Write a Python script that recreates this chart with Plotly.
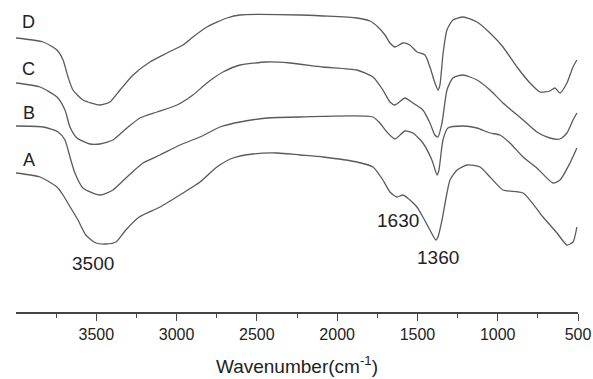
import plotly.graph_objects as go

# Wavenumber (cm^-1) and relative transmittance (arbitrary units, offset spectra)
wn_D = [4000, 3830, 3745, 3707, 3676, 3645, 3583, 3477, 3415, 3352, 3271, 3166, 3060, 2960, 2898, 2811, 2686, 2605, 2231,
        2088, 1877, 1796, 1746, 1702, 1671, 1640, 1590, 1547, 1503, 1453, 1422, 1391, 1372, 1360, 1340, 1316, 1279, 1216,
        1129, 1048, 967, 880, 799, 737, 675, 644, 612, 569, 531, 507]
t_D = [274, 270, 262, 252, 235, 222, 212, 207, 210, 222, 237, 250, 259, 267, 275, 285, 294, 297, 297,
       296, 294, 291, 285, 277, 269, 265, 269, 267, 260, 257, 245, 229, 222, 227, 259, 282, 292, 295,
       290, 279, 265, 245, 229, 220, 221, 224, 219, 229, 245, 252]

wn_C = [4000, 3850, 3745, 3695, 3664, 3620, 3540, 3477, 3396, 3309, 3228, 3122, 2997, 2898, 2811, 2711, 2605, 2437, 2294,
        2088, 1877, 1777, 1715, 1671, 1640, 1578, 1528, 1466, 1422, 1391, 1372, 1347, 1316, 1279, 1216, 1129, 1048, 967,
        842, 756, 675, 612, 569, 531, 507]
t_C = [229, 225, 215, 202, 185, 174, 168, 168, 172, 184, 194, 200, 207, 217, 229, 240, 247, 250, 249,
       245, 242, 235, 222, 210, 207, 214, 209, 202, 189, 177, 175, 189, 222, 234, 237, 232, 222, 209,
       192, 180, 174, 173, 179, 192, 199]

wn_B = [4000, 3830, 3738, 3695, 3664, 3633, 3583, 3477, 3396, 3309, 3209, 3103, 2979, 2854, 2730, 2605, 2437, 2231,
        1777, 1734, 1690, 1640, 1578, 1528, 1466, 1410, 1378, 1366, 1341, 1310, 1216, 1129, 1048, 986, 924, 842, 756,
        656, 612, 550, 507]
t_B = [186, 185, 180, 172, 155, 139, 124, 117, 122, 135, 149, 157, 167, 175, 185, 190, 194, 195,
       195, 189, 180, 173, 181, 179, 169, 152, 137, 142, 172, 184, 186, 184, 179, 177, 169, 155, 144,
       129, 132, 149, 164]

wn_A = [4000, 3850, 3745, 3707, 3670, 3614, 3565, 3503, 3440, 3378, 3316, 3233, 3103, 2960, 2854, 2749, 2649, 2524,
        2375, 2231, 2088, 1877, 1777, 1715, 1671, 1628, 1590, 1547, 1503, 1466, 1422, 1385, 1372, 1347, 1316, 1297,
        1253, 1191, 1110, 1048, 967, 842, 718, 631, 569, 531, 507]
t_A = [139, 135, 125, 117, 107, 92, 77, 69, 68, 70, 82, 95, 105, 119, 130, 145, 154, 158,
       159, 157, 155, 150, 145, 132, 120, 115, 117, 112, 105, 95, 82, 72, 75, 92, 119, 132,
       142, 147, 145, 135, 122, 119, 95, 79, 67, 70, 85]

curve_labels = ["D", "C", "B", "A"]
label_y = [290, 243, 199, 152]

peak_text = ["3500", "1630", "1360"]
peak_wn = [3520, 1620, 1370]
peak_y = [49, 92, 55]

x_tick_vals = [3500, 3000, 2500, 2000, 1500, 1000, 500]
x_tick_text = ["3500", "3000", "2500", "2000", "1500", "1000", "500"]
x_minor_vals = [3750, 3250, 2750, 2250, 1750, 1250, 750]

FONT = "Arial, Liberation Sans, sans-serif"
line_col = "#5a5a5a"
fig = go.Figure()
for wn, t in [(wn_D, t_D), (wn_C, t_C), (wn_B, t_B), (wn_A, t_A)]:
    fig.add_trace(go.Scatter(x=wn, y=t, mode="lines",
                             line=dict(color=line_col, width=1.3, shape="spline", smoothing=0.6),
                             showlegend=False, hoverinfo="skip"))

for lab, y in zip(curve_labels, label_y):
    fig.add_annotation(x=3920, y=y, text=lab, showarrow=False,
                       font=dict(family=FONT, size=18, color="#222"))
for txt, x, y in zip(peak_text, peak_wn, peak_y):
    fig.add_annotation(x=x, y=y, text=txt, showarrow=False,
                       font=dict(family=FONT, size=19, color="#222"))

fig.update_layout(
    width=593, height=379,
    margin=dict(l=16, r=15, t=0, b=67),
    paper_bgcolor="white", plot_bgcolor="white",
    font=dict(family=FONT, color="#222"),
    xaxis=dict(range=[4000, 500], tickvals=x_tick_vals, ticktext=x_tick_text,
               showgrid=False, zeroline=False, showline=True, linecolor="#444", linewidth=1.5,
               ticks="outside", ticklen=7, tickwidth=1.3, tickcolor="#444",
               minor=dict(tickvals=x_minor_vals, ticks="outside",
                          ticklen=4, tickwidth=1.3, tickcolor="#444"),
               tickfont=dict(size=16, color="#222"),
               title=dict(text="Wavenumber(cm<sup>-1</sup>)", font=dict(size=19, color="#222"), standoff=18)),
    yaxis=dict(range=[0, 312], visible=False, showgrid=False, zeroline=False),
)
fig.write_html("out.html", config={"displayModeBar": False},
               post_script="document.body.style.margin='0';document.body.style.overflow='hidden';")
